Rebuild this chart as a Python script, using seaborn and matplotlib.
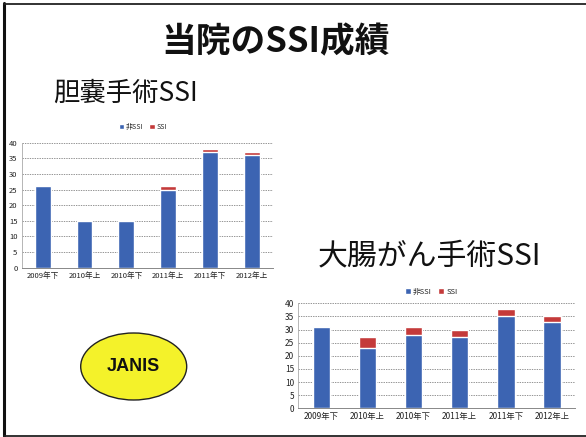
import matplotlib
matplotlib.use("Agg")
import matplotlib.pyplot as plt
import seaborn as sns
import pandas as pd
from matplotlib.patches import Patch, Ellipse
from matplotlib.lines import Line2D

# Half-year periods
periods = ["2009年下", "2010年上", "2010年下", "2011年上", "2011年下", "2012年上"]

# Gallbladder surgery: cases without / with SSI
gb_non_ssi = [26, 15, 15, 25, 37, 36]
gb_ssi = [0, 0, 0, 1, 1, 1]

# Colorectal cancer surgery: cases without / with SSI
cr_non_ssi = [31, 23, 28, 27, 35, 33]
cr_ssi = [0, 4, 3, 3, 3, 2]

y_ticks = [0, 5, 10, 15, 20, 25, 30, 35, 40]

sns.set_theme(style="white")
plt.rcParams["font.family"] = ["Noto Sans CJK JP", "DejaVu Sans"]

BLUE = "#3C64B2"
RED = "#C43A3A"

W, H = 586, 437
fig = plt.figure(figsize=(W / 100, H / 100), dpi=100)
fig.patch.set_facecolor("white")


def px_axes(left, top, right, bottom):
    return fig.add_axes([left / W, 1 - bottom / H, (right - left) / W, (bottom - top) / H])


def stacked(ax, non, ssi, fs, leg_xy):
    df = pd.DataFrame({"period": periods, "non": non, "ssi": ssi})
    df["total"] = df["non"] + df["ssi"]
    ax.set_axisbelow(True)
    for y in y_ticks[1:]:
        ax.axhline(y, color="#6a6a6a", lw=0.5, ls=(0, (2, 1.5)), zorder=0)
    sns.barplot(data=df, x="period", y="total", color=RED, width=0.38,
                saturation=1, ax=ax, zorder=2)
    sns.barplot(data=df, x="period", y="non", color=BLUE, width=0.38,
                saturation=1, ax=ax, zorder=3)
    ax.set_xlim(-0.5, len(periods) - 0.5)
    ax.set_ylim(0, 40)
    ax.set_yticks(y_ticks)
    ax.set_xlabel("")
    ax.set_ylabel("")
    ax.tick_params(axis="both", labelsize=fs, length=0, pad=3, colors="#222222")
    ax.set_xticks([i + 0.5 for i in range(-1, len(periods))], minor=True)
    ax.tick_params(axis="x", which="minor", length=2.5, color="#888888", width=0.6)
    for s in ["top", "right"]:
        ax.spines[s].set_visible(False)
    ax.spines["left"].set_color("#aaaaaa")
    ax.spines["left"].set_linewidth(0.6)
    ax.spines["bottom"].set_color("#888888")
    ax.spines["bottom"].set_linewidth(0.7)
    handles = [Patch(facecolor=BLUE, label="非SSI"), Patch(facecolor=RED, label="SSI")]
    ax.legend(handles=handles, loc="center", bbox_to_anchor=leg_xy, ncol=2,
              frameon=False, fontsize=fs - 0.5, handlelength=0.8, handleheight=0.8,
              handletextpad=0.3, columnspacing=0.8, borderaxespad=0)


ax1 = px_axes(21.7, 142.7, 273, 267.7)
stacked(ax1, gb_non_ssi, gb_ssi, 5.5, (0.483, 1.126))

ax2 = px_axes(298.3, 303.3, 575, 408.3)
stacked(ax2, cr_non_ssi, cr_ssi, 6, (0.48, 1.11))

# Titles
fig.text(276 / W, 1 - 42 / H, "当院のSSI成績", ha="center", va="center",
         fontsize=25, fontweight="bold", color="#111111")
fig.text(53 / W, 1 - 93 / H, "胆嚢手術SSI", ha="left", va="center",
         fontsize=19, color="#111111")
fig.text(318 / W, 1 - 256 / H, "大腸がん手術SSI", ha="left", va="center",
         fontsize=21.5, color="#111111")

# JANIS badge
bg = fig.add_axes([0, 0, 1, 1], zorder=-1)
bg.set_xlim(0, W)
bg.set_ylim(H, 0)
bg.axis("off")
bg.add_patch(Ellipse((133.7, 366.5), 106, 67, facecolor="#F4F22A",
                     edgecolor="#222222", lw=1.0))
bg.text(133.7, 366.5, "JANIS", ha="center", va="center", fontsize=13,
        fontweight="bold", family=["Liberation Sans", "DejaVu Sans"], color="#111111")

# Slide frame
bg.add_line(Line2D([4, 4], [3, 436], color="#111111", lw=2.2))
bg.add_line(Line2D([4, 586], [3.5, 3.5], color="#222222", lw=1.3))
bg.add_line(Line2D([4, 586], [435.5, 435.5], color="#222222", lw=1.3))

fig.savefig("out.png", dpi=100, facecolor="white")
